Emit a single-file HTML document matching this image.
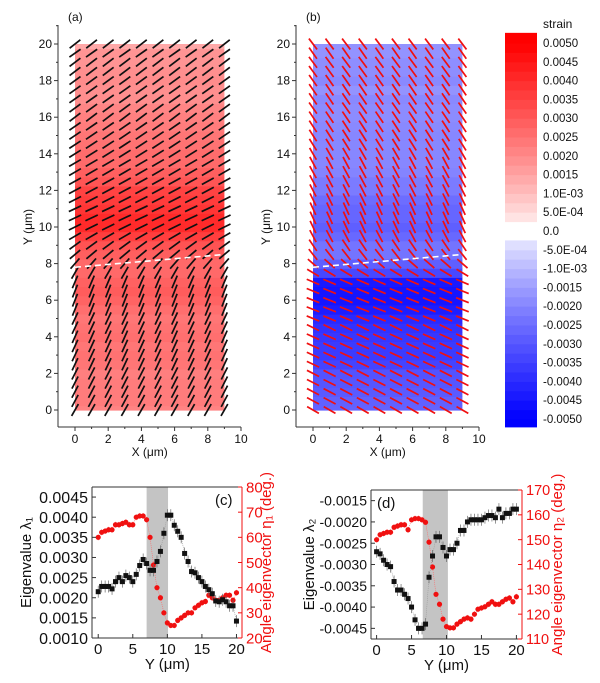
<!DOCTYPE html>
<html><head><meta charset="utf-8"><style>
body{margin:0;background:#fff;}
svg{display:block;font-family:"Liberation Sans",Arial,sans-serif;}
</style></head><body>
<svg id="fig" width="600" height="683" viewBox="0 0 600 683"></svg>
<script>
const yPos=[0,0.5,1,1.5,2,2.5,3,3.5,4,4.5,5,5.5,6,6.5,7,7.5,8,8.5,9,9.5,10,10.5,11,11.5,12,12.5,13,13.5,14,14.5,15,15.5,16,16.5,17,17.5,18,18.5,19,19.5,20];
const lambda1=[0.00215,0.00228,0.00228,0.00228,0.00222,0.0024,0.0025,0.0024,0.00255,0.0025,0.0024,0.00258,0.0028,0.00295,0.00285,0.00268,0.00268,0.0029,0.00315,0.0036,0.00405,0.00405,0.0038,0.00365,0.0035,0.0031,0.0029,0.00265,0.00262,0.0025,0.0024,0.00228,0.0022,0.0021,0.00192,0.0019,0.00195,0.0019,0.0018,0.0018,0.00142];
const eta1=[60,62,62.5,63,63,65,65,65.5,66,65,65,68,68.5,68.5,67,60,49,40,36,30,26,25,25,27,28,29,30,30,32,33,34,34.5,37,36,35,35,36,37,37,35,38];
const lambda2=[-0.0027,-0.00275,-0.0029,-0.003,-0.00305,-0.0034,-0.0036,-0.0036,-0.0037,-0.0038,-0.004,-0.0043,-0.0045,-0.0045,-0.0044,-0.0033,-0.0028,-0.00235,-0.00235,-0.0026,-0.0028,-0.00265,-0.00265,-0.0025,-0.0022,-0.0022,-0.002,-0.00195,-0.00195,-0.00195,-0.00195,-0.0019,-0.00185,-0.00185,-0.0019,-0.0017,-0.0019,-0.0018,-0.0018,-0.0017,-0.0017];
const eta2=[150,152,152.5,153,153,155,155.5,156,156,154,158,158.5,158.5,158,157,149,139,128,124,118,115,114.5,114.5,116,117,118,118.5,118,120,122,122.5,123,124,125,124,124,125,126,126.5,125,127];
const xCols=[0,1,2,3,4,5,6,7,8,9];
const mapYTicks=[0,2,4,6,8,10,12,14,16,18,20];
const mapXTicks=[0,2,4,6,8,10];
const cbLabels=["0.0050","0.0045","0.0040","0.0035","0.0030","0.0025","0.0020","0.0015","1.0E-03","5.0E-04","0.0","-5.0E-04","-1.0E-03","-0.0015","-0.0020","-0.0025","-0.0030","-0.0035","-0.0040","-0.0045","-0.0050"];
const cbValues=[0.005,0.0045,0.004,0.0035,0.003,0.0025,0.002,0.0015,0.001,0.0005,0,-0.0005,-0.001,-0.0015,-0.002,-0.0025,-0.003,-0.0035,-0.004,-0.0045,-0.005];
const cLeftTicks=[0.001,0.0015,0.002,0.0025,0.003,0.0035,0.004,0.0045];
const cLeftLabels=["0.0010","0.0015","0.0020","0.0025","0.0030","0.0035","0.0040","0.0045"];
const cRightTicks=[20,30,40,50,60,70,80];
const dLeftTicks=[-0.0045,-0.004,-0.0035,-0.003,-0.0025,-0.002,-0.0015];
const dLeftLabels=["-0.0045","-0.0040","-0.0035","-0.0030","-0.0025","-0.0020","-0.0015"];
const dRightTicks=[110,120,130,140,150,160,170];
const lineXTicks=[0,5,10,15,20];

const NS="http://www.w3.org/2000/svg";
const svg=document.getElementById('fig');
function mk(tag,attrs,parent){const e=document.createElementNS(NS,tag);for(const k in attrs)e.setAttribute(k,attrs[k]);(parent||svg).appendChild(e);return e;}
function txt(s,x,y,attrs,parent){const e=mk('text',Object.assign({x:x,y:y,'font-size':12,fill:'#111'},attrs||{}),parent);e.textContent=s;return e;}
function redC(v){const t=Math.pow(Math.max(0,Math.min(1,v/0.005)),0.85);const gb=Math.round(255*(1-t));return `rgb(255,${gb},${gb})`;}
function blueC(v){const t=Math.pow(Math.max(0,Math.min(1,-v/0.005)),0.8);const rg=Math.round(255*(1-t));return `rgb(${rg},${rg},255)`;}

function mapPanel(ox,label,lam,eta,colorFn,lineColor,name){
  const g=mk('g',{});
  
  
  const sx=x=>ox+17+x*16.6, sy=y=>410-y*18.3;
  for(let i=0;i<yPos.length;i++){
    const y0=Math.max(0,yPos[i]-0.25), y1=Math.min(20,yPos[i]+0.25);
    const r=mk('rect',{x:sx(0),y:sy(y1),width:sx(9)-sx(0),height:sy(y0)-sy(y1)+0.6,fill:colorFn(lam[i])},g);
    
    
  }
  for(let i=0;i<yPos.length;i++){
    const a=eta[i]*Math.PI/180, L=6.8;
    for(const c of xCols){
      const cx=sx(c), cy=sy(yPos[i]);
      const l=mk('line',{x1:cx-L*Math.cos(a),y1:cy+L*Math.sin(a),x2:cx+L*Math.cos(a),y2:cy-L*Math.sin(a),stroke:lineColor,'stroke-width':1.7},g);
      
      
    }
  }
  const d=mk('line',{x1:sx(0),y1:sy(7.8),x2:sx(9),y2:sy(8.5),stroke:'#fff','stroke-width':1.6,'stroke-dasharray':'6,4'},g);
  
  
  mk('line',{x1:ox,y1:25,x2:ox,y2:427,stroke:'#333'},g);
  mk('line',{x1:ox,y1:427,x2:sx(10),y2:427,stroke:'#333'},g);
  for(const t of mapYTicks){mk('line',{x1:ox-4,y1:sy(t),x2:ox,y2:sy(t),stroke:'#333'},g);mk('line',{x1:ox-2,y1:sy(t+1),x2:ox,y2:sy(t+1),stroke:'#333'},g);
    const e=txt(String(t),ox-6,sy(t)+4,{'text-anchor':'end'},g);}
  for(const t of mapXTicks){mk('line',{x1:sx(t),y1:427,x2:sx(t),y2:431,stroke:'#333'},g);if(t<10)mk('line',{x1:sx(t+1),y1:427,x2:sx(t+1),y2:429,stroke:'#333'},g);
    const e=txt(String(t),sx(t),443,{'text-anchor':'middle'},g);}
  const xt=txt('X (μm)',sx(4.5),456,{'text-anchor':'middle'},g);
  const yt=txt('Y (μm)',0,0,{'text-anchor':'middle',transform:`translate(${ox-26},${sy(10)}) rotate(-90)`},g);
  const pl=txt(label,ox+10,21,{},g);
}
mapPanel(58,'(a)',lambda1,eta1,redC,'#111','panel-a-map');
mapPanel(296,'(b)',lambda2,eta2,blueC,'#f01010','panel-b-map');

(function(){
  const g=mk('g',{});
  
  
  const cy=v=>231-v/0.0005*18.8;
  const top=0.00527, bot=-0.00521;
  for(let v=-0.0055;v<0.0055-1e-9;v+=0.00025){
    const lo=Math.max(v,bot), hi=Math.min(v+0.00025,top);
    if(hi<=lo)continue;
    const mid=v+0.000125;
    if(Math.abs(mid)<0.00025)continue;
    mk('rect',{x:505,y:cy(hi),width:32,height:cy(lo)-cy(hi)+0.5,fill:mid>0?redC(mid):blueC(mid)},g);
  }
  cbLabels.forEach((s,i)=>{const e=txt(s,543,cy(cbValues[i])+4,{'font-size':11.5},g);});
  const t=txt('strain',543,28,{'font-size':12},g);
})();

function linePanel(o){
  const g=mk('g',{});
  
  
  const sx=x=>o.x0+(x-o.xmin)/(o.xmax-o.xmin)*(o.x1-o.x0);
  const syL=v=>o.b-(v-o.lmin)/(o.lmax-o.lmin)*(o.b-o.t);
  const syR=v=>o.b-(v-o.rmin)/(o.rmax-o.rmin)*(o.b-o.t);
  const band=mk('rect',{x:sx(o.band[0]),y:o.t,width:sx(o.band[1])-sx(o.band[0]),height:o.b-o.t,fill:'#c4c4c4'},g);
  
  let p='';yPos.forEach((y,i)=>{p+=(i?'L':'M')+sx(y)+','+syR(o.eta[i]);});
  mk('path',{d:p,fill:'none',stroke:'#f66','stroke-width':0.6,'stroke-dasharray':'1,1'},g);
  yPos.forEach((y,i)=>{mk('line',{x1:sx(y),y1:syR(o.eta[i])-3,x2:sx(y),y2:syR(o.eta[i])+3,stroke:'#f88','stroke-width':0.7},g);
    const c=mk('circle',{cx:sx(y),cy:syR(o.eta[i]),r:2.6,fill:'#f01010'},g);});
  p='';yPos.forEach((y,i)=>{p+=(i?'L':'M')+sx(y)+','+syL(o.lam[i]);});
  mk('path',{d:p,fill:'none',stroke:'#999','stroke-width':0.6,'stroke-dasharray':'1,1'},g);
  yPos.forEach((y,i)=>{mk('line',{x1:sx(y),y1:syL(o.lam[i])-6,x2:sx(y),y2:syL(o.lam[i])+6,stroke:'#666','stroke-width':0.7},g);
    const r=mk('rect',{x:sx(y)-2.5,y:syL(o.lam[i])-2.5,width:5,height:5,fill:'#111'},g);});
  mk('line',{x1:o.x0,y1:o.t,x2:o.x1,y2:o.t,stroke:'#333'},g);
  mk('line',{x1:o.x0,y1:o.b,x2:o.x1,y2:o.b,stroke:'#333'},g);
  mk('line',{x1:o.x0,y1:o.t,x2:o.x0,y2:o.b,stroke:'#333'},g);
  mk('line',{x1:o.x1,y1:o.t,x2:o.x1,y2:o.b,stroke:'#f01010'},g);
  o.lt.forEach((v,i)=>{mk('line',{x1:o.x0,y1:syL(v),x2:o.x0+4,y2:syL(v),stroke:'#333'},g);
    const e=txt(o.ll[i],o.x0-4,syL(v)+o.lfs*0.36,{'text-anchor':'end','font-size':o.lfs},g);});
  o.rt.forEach(v=>{mk('line',{x1:o.x1-4,y1:syR(v),x2:o.x1,y2:syR(v),stroke:'#f01010'},g);
    const e=txt(String(v),o.x1+4,syR(v)+o.rfs*0.36,{'font-size':o.rfs,fill:'#f01010'},g);});
  lineXTicks.forEach(v=>{mk('line',{x1:sx(v),y1:o.b,x2:sx(v),y2:o.b-4,stroke:'#333'},g);
    const e=txt(String(v),sx(v),o.b+16,{'text-anchor':'middle','font-size':15},g);});
  const xt=txt('Y (μm)',sx(10),o.b+31,{'text-anchor':'middle','font-size':15},g);
  const lt=txt(o.ltitle,0,0,{'text-anchor':'middle','font-size':15,transform:`translate(${o.ltx},${(o.t+o.b)/2}) rotate(-90)`},g);
  const rt=txt(o.rtitle,0,0,{'text-anchor':'middle','font-size':15,fill:'#f01010',transform:`translate(${o.rtx},${(o.t+o.b)/2}) rotate(-90)`},g);
  const pl=txt(o.label,o.lx,o.t+18,{'font-size':15},g);
}
linePanel({name:'panel-c-chart',x0:92,x1:242,t:487,b:638,xmin:-0.9,xmax:20.8,lmin:0.001,lmax:0.00475,rmin:20,rmax:80,band:[7,10.1],
  lam:lambda1,eta:eta1,lt:cLeftTicks,ll:cLeftLabels,rt:cRightTicks,ltitle:'Eigenvalue λ₁',rtitle:'Angle eigenvector η₁ (deg.)',ltx:31,rtx:271,label:'(c)',lx:215,lfs:16,rfs:15});
linePanel({name:'panel-d-chart',x0:371,x1:522,t:490,b:639,xmin:-0.8,xmax:20.8,lmin:-0.00475,lmax:-0.00125,rmin:110,rmax:170,band:[6.6,10.2],
  lam:lambda2,eta:eta2,lt:dLeftTicks,ll:dLeftLabels,rt:dRightTicks,ltitle:'Eigenvalue λ₂',rtitle:'Angle eigenvector η₂ (deg.)',ltx:314,rtx:562,label:'(d)',lx:377,lfs:14,rfs:14.5});
</script>
</body></html>
